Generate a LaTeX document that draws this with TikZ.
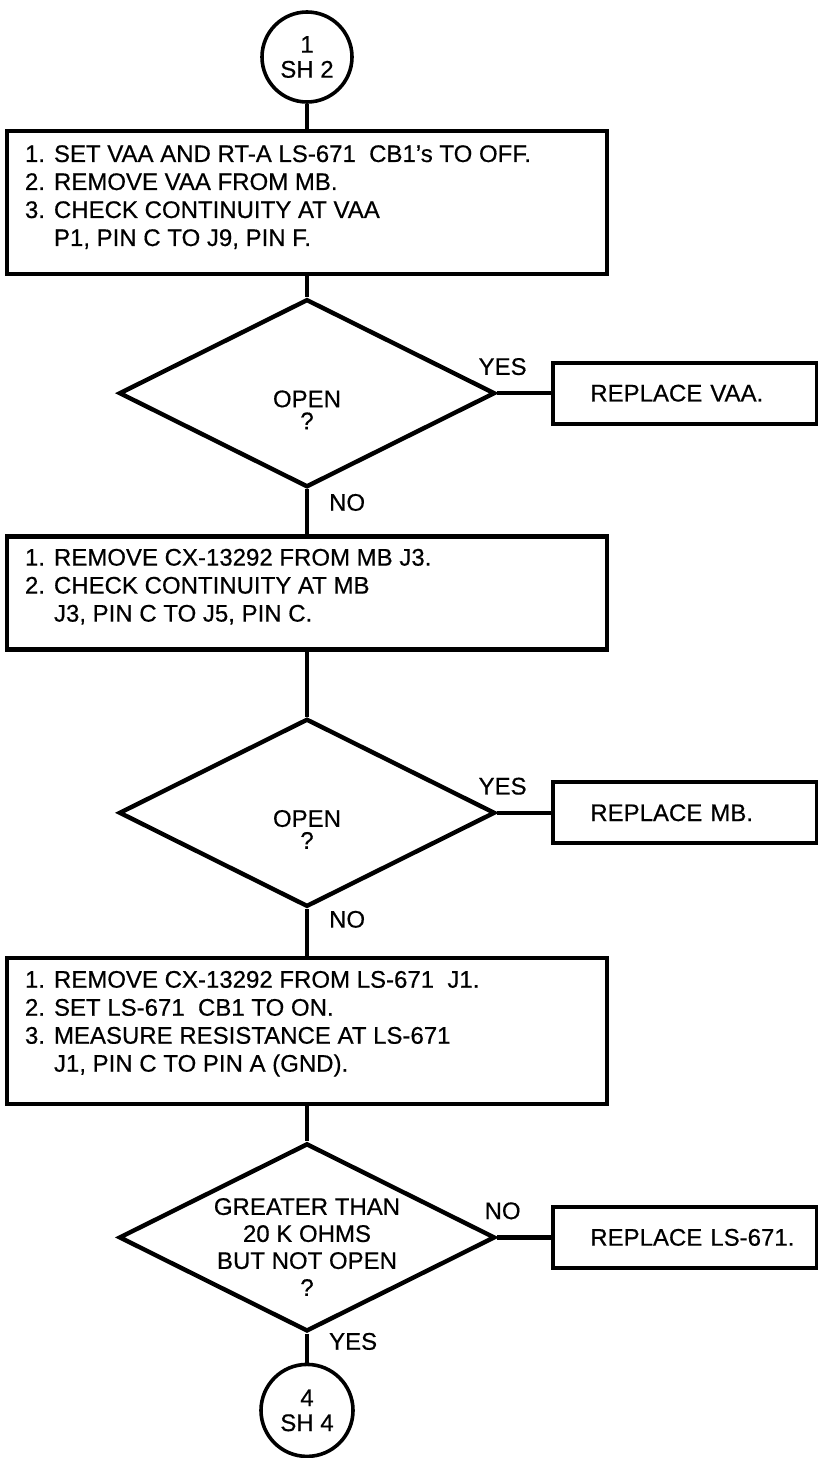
\documentclass[tikz,border=0pt]{standalone}
\usepackage{fontspec}
\setmainfont{Liberation Sans}[FakeBold=0.5]
\usetikzlibrary{shapes.geometric, positioning}

\begin{document}
\begin{tikzpicture}[
  x=1pt, y=1pt,
  every node/.style={font=\fontsize{24}{28}\selectfont},
  conn/.style={draw, circle, line width=3.6pt, minimum size=90pt, inner sep=0pt, align=center, font=\fontsize{24}{25}\selectfont},
  task/.style={draw, line width=4.2pt, minimum width=600pt, inner xsep=18pt, inner ysep=6pt},
  test/.style={draw, diamond, aspect=2, line width=4.4pt, minimum width=376pt, minimum height=188pt, inner sep=-12pt, align=center},
  fix/.style={draw, line width=4.2pt, minimum width=264pt, minimum height=61pt, text width=226pt, inner xsep=19pt, align=left, execute at begin node={\hspace*{18pt}}},
  lbl/.style={inner sep=0pt},
  link/.style={line width=4.2pt}
]
  \useasboundingbox (0,0) rectangle (817,-1458);

  % Entry from sheet 2
  \node[conn] (c1) at (307,-57) {1\\SH 2};

  % First check: VAA
  \node[task, minimum height=143pt, below=25pt of c1] (box1) {%
    \begin{tabular}{@{}p{29pt}@{}p{535pt}@{}}
    1. & SET VAA AND RT-A LS-671\ \ CB1's TO OFF.\\
    2. & REMOVE VAA FROM MB.\\
    3. & CHECK CONTINUITY AT VAA\\
       & P1, PIN C TO J9, PIN F.\\[8pt]
    \end{tabular}};
  \node[test, below=21pt of box1] (d1) {\rule{0pt}{50pt}OPEN\\[-6pt]?};
  \node[fix, right=54pt of d1] (rep1) {REPLACE VAA.};

  \draw[link] (c1) -- (box1);
  \draw[link] (box1) -- (d1);
  \draw[link] (d1) -- node[lbl, above=16pt, pos=0.1]{YES} (rep1);

  % Second check: MB
  \node[task, minimum height=113pt, below=45pt of d1] (box2) {%
    \begin{tabular}{@{}p{29pt}@{}p{535pt}@{}}
    1. & REMOVE CX-13292 FROM MB J3.\\
    2. & CHECK CONTINUITY AT MB\\
       & J3, PIN C TO J5, PIN C.\\[10pt]
    \end{tabular}};
  \node[test, below=65pt of box2] (d2) {\rule{0pt}{50pt}OPEN\\[-6pt]?};
  \node[fix, right=54pt of d2] (rep2) {REPLACE MB.};

  \draw[link] (d1) -- node[lbl, right=20pt, pos=0.29]{NO} (box2);
  \draw[link] (box2) -- (d2);
  \draw[link] (d2) -- node[lbl, above=16pt, pos=0.1]{YES} (rep2);

  % Third check: LS-671
  \node[task, minimum height=146pt, below=47pt of d2] (box3) {%
    \begin{tabular}{@{}p{29pt}@{}p{535pt}@{}}
    1. & REMOVE CX-13292 FROM LS-671\ \ J1.\\
    2. & SET LS-671\ \ CB1 TO ON.\\
    3. & MEASURE RESISTANCE AT LS-671\\
       & J1, PIN C TO PIN A (GND).\\[14pt]
    \end{tabular}};
  \node[test, below=35pt of box3, font=\fontsize{24}{27}\selectfont] (d3)
    {\rule{0pt}{36pt}GREATER THAN\\20 K OHMS\\BUT NOT OPEN\\?};
  \node[fix, right=54pt of d3] (rep3) {REPLACE LS-671.};

  \draw[link] (d2) -- node[lbl, right=20pt, pos=0.22]{NO} (box3);
  \draw[link] (box3) -- (d3);
  \draw[link] (d3) -- node[lbl, above=16pt, pos=0.1]{NO} (rep3);

  % Exit to sheet 4
  \node[conn, minimum size=92pt, below=29pt of d3] (c4) {4\\SH 4};
  \draw[link] (d3) -- node[lbl, right=20pt, pos=0.27]{YES} (c4);

\end{tikzpicture}
\end{document}
